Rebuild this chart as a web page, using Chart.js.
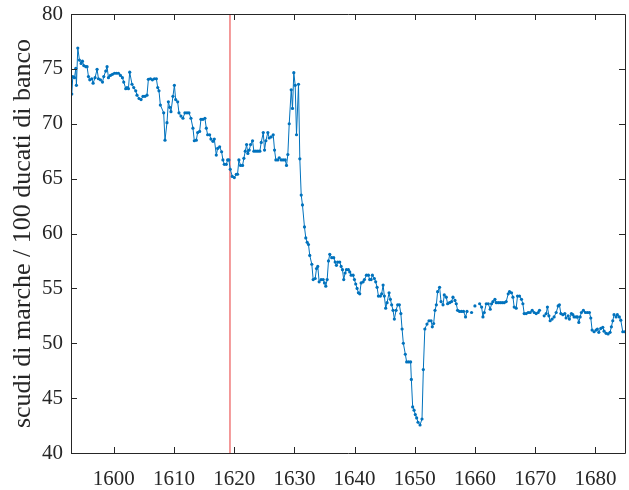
<!DOCTYPE html>
<html>
<head>
<meta charset="utf-8">
<script src="https://cdn.jsdelivr.net/npm/chart.js@4"></script>
<style>
  body { margin: 0; background: #fff; }
  canvas { display: block; }
</style>
</head>
<body>
<canvas id="myChart" width="629" height="490"></canvas>
<script>

// anni (x) e cambio scudi/ducati (y); null = buco nella serie
const years = [
  1593.03, 1593.2, 1593.48, 1593.7, 1593.8, 1594.03, 1594.3, 1594.58, 1594.8, 1595.02,
  1595.36, 1595.57, 1595.8, 1596.02, 1596.35, 1596.57, 1596.9, 1597.23, 1597.46, 1597.79,
  1598.13, 1598.34, 1598.67, 1598.89, 1599.12, 1599.45, 1599.78, 1600.12, 1600.45, 1600.78,
  1601.11, 1601.44, 1601.66, 1601.99, 1602.2, 1602.44, 1602.65, 1603.03, 1603.32, 1603.65,
  1603.86, 1604.2, 1604.53, 1604.86, 1605.19, 1605.52, 1605.75, 1606.09, 1606.42, 1606.75,
  1607.08, 1607.3, 1607.51, 1607.74, 1608.29, 1608.51, 1608.84, 1609.07, 1609.29, 1609.5,
  1609.83, 1610.07, 1610.28, 1610.61, 1610.83, 1611.16, 1611.49, 1611.82, 1612.16, 1612.49,
  1612.82, 1613.15, 1613.38, 1613.71, 1613.93, 1614.26, 1614.48, 1614.81, 1615.14, 1615.37,
  1615.59, 1615.92, 1616.14, 1616.47, 1616.7, 1617.03, 1617.25, 1617.58, 1617.91, 1618.13,
  1618.36, 1618.69, 1618.91, 1619.12, 1619.35, 1619.68, 1620.02, 1620.35, 1620.56, 1620.78,
  1621.06, 1621.39, 1621.61, 1621.84, 1622.06, 1622.27, 1622.5, 1622.72, 1623.05, 1623.27,
  1623.6, 1623.93, 1624.26, 1624.49, 1624.83, 1625.04, 1625.26, 1625.59, 1625.82, 1626.15,
  1626.48, 1626.7, 1626.92, 1627.25, 1627.48, 1627.81, 1628.14, 1628.47, 1628.69, 1628.91,
  1629.14, 1629.47, 1629.68, 1629.9, 1630.13, 1630.35, 1630.68, 1630.9, 1631.13, 1631.34,
  1631.67, 1631.89, 1632.12, 1632.34, 1632.55, 1632.89, 1633.12, 1633.45, 1633.67, 1633.88,
  1634.11, 1634.44, 1634.78, 1634.99, 1635.21, 1635.44, 1635.66, 1635.87, 1636.2, 1636.53,
  1636.77, 1636.98, 1637.2, 1637.53, 1637.76, 1637.98, 1638.19, 1638.42, 1638.64, 1638.97,
  1639.19, 1639.42, 1639.75, 1639.97, 1640.18, 1640.41, 1640.63, 1640.85, 1641.08, 1641.41,
  1641.63, 1641.96, 1642.29, 1642.5, 1642.74, 1642.95, 1643.28, 1643.5, 1643.73, 1643.95,
  1644.28, 1644.49, 1644.73, 1644.94, 1645.16, 1645.39, 1645.72, 1645.94, 1646.15, 1646.38,
  1646.6, 1646.88, 1647.15, 1647.43, 1647.68, 1647.88, 1648.09, 1648.42, 1648.64, 1648.97,
  1649.3, 1649.42, 1649.64, 1649.87, 1650.08, 1650.3, 1650.53, 1650.86, 1651.19, 1651.41,
  1651.66, 1652.02, 1652.35, 1652.69, 1652.9, 1653.12, 1653.35, 1653.57, 1653.78, 1654.11,
  1654.35, 1654.68, 1654.89, 1655.22, 1655.44, 1655.77, 1656.1, 1656.33, 1656.67, 1656.88,
  1657.1, 1657.43, 1657.76, 1658.09, 1658.42, 1658.66, 1659.0, 1659.42, 1659.7, 1659.98,
  1660.4, 1660.76, 1661.09, 1661.31, 1661.53, 1661.86, 1662.19, 1662.52, 1662.74, 1662.97,
  1663.3, 1663.52, 1663.85, 1664.18, 1664.51, 1664.84, 1665.17, 1665.51, 1665.72, 1666.05,
  1666.29, 1666.5, 1666.83, 1667.05, 1667.38, 1667.71, 1667.94, 1668.16, 1668.49, 1668.82,
  1669.15, 1669.49, 1669.82, 1670.15, 1670.48, 1670.7, 1671.1, 1671.48, 1671.81, 1672.02,
  1672.26, 1672.47, 1672.8, 1673.13, 1673.47, 1673.8, 1674.01, 1674.25, 1674.58, 1674.91,
  1675.12, 1675.46, 1675.67, 1676.0, 1676.24, 1676.45, 1676.78, 1677.0, 1677.23, 1677.45,
  1677.66, 1677.99, 1678.33, 1678.66, 1678.99, 1679.22, 1679.44, 1679.77, 1680.1, 1680.31,
  1680.55, 1680.88, 1681.21, 1681.43, 1681.76, 1682.09, 1682.42, 1682.64, 1682.87, 1683.08,
  1683.42, 1683.63, 1683.96, 1684.2, 1684.53, 1684.86
];

const scudi = [
  72.7, 74.3, 74.2, 75.05, 73.5, 76.9, 75.8, 75.5, 75.7, 75.3,
  75.2, 75.2, 74.3, 74.0, 74.1, 73.7, 74.2, 74.96, 74.1, 74.0,
  73.8, 74.3, 74.8, 75.2, 74.2, 74.4, 74.5, 74.6, 74.6, 74.6,
  74.4, 74.2, 73.8, 73.2, 73.3, 73.2, 74.7, 73.6, 73.3, 73.0,
  72.6, 72.3, 72.2, 72.5, 72.5, 72.6, 74.05, 74.1, 74.0, 74.1,
  74.1, 73.3, 73.0, 71.7, 71.0, 68.5, 70.1, 72.0, 71.5, 71.1,
  72.5, 73.5, 72.2, 72.0, 71.0, 70.7, 70.5, 71.0, 71.0, 71.0,
  70.5, 69.6, 68.45, 68.5, 69.2, 69.3, 70.4, 70.4, 70.5, 69.6,
  69.0, 69.0, 68.6, 68.4, 68.6, 67.15, 67.75, 67.9, 67.45, 66.7,
  66.3, 66.3, 66.7, 66.7, 65.85, 65.2, 65.1, 65.4, 65.4, 66.7,
  66.2, 66.2, 66.85, 67.5, 68.1, 67.3, 67.6, 68.1, 68.45, 67.5,
  67.5, 67.5, 67.5, 68.3, 69.2, 67.6, 68.45, 69.2, 68.7, 68.8,
  69.0, 67.6, 66.7, 66.7, 66.9, 66.7, 66.7, 66.7, 66.2, 67.2,
  70.0, 73.1, 71.4, 74.65, 73.5, 69.0, 73.6, 66.8, 63.5, 62.6,
  60.6, 59.6, 59.2, 59.0, 58.0, 57.2, 55.8, 55.9, 56.8, 57.0,
  55.6, 55.8, 55.8, 55.5, 55.2, 55.8, 57.5, 58.1, 57.8, 57.8,
  57.4, 57.1, 57.4, 57.4, 57.0, 56.7, 55.8, 56.4, 56.7, 56.7,
  56.5, 56.2, 56.2, 55.8, 55.4, 55.0, 54.6, 54.5, 55.5, 55.6,
  55.8, 56.2, 56.2, 55.8, 55.8, 56.2, 55.9, 55.6, 55.1, 54.3,
  54.3, 54.5, 55.3, 54.3, 53.2, 53.7, 54.6, 54.0, 53.5, 53.0,
  52.2, 53.0, 53.5, 53.5, 52.7, 51.3, 50.0, 49.0, 48.3, 48.3,
  48.3, 46.7, 44.2, 43.9, 43.5, 43.2, 42.8, 42.55, 43.1, 47.6,
  51.3, 51.75, 52.05, 52.05, 51.5, 51.8, 53.0, 53.5, 54.7, 55.1,
  53.8, 53.5, 54.4, 54.2, 53.6, 53.7, 53.8, 54.2, 53.9, 53.6,
  53.0, 52.9, 52.9, 52.9, 52.4, 52.9, null, 52.8, null, 53.4,
  null, 53.6, 53.3, 52.4, 52.8, 53.6, 53.6, 53.1, 53.6, 53.8,
  54.0, 53.7, 53.7, 53.7, 53.7, 53.7, 53.8, 54.5, 54.7, 54.6,
  54.2, 53.3, 53.2, 54.3, 54.3, 54.0, 53.6, 52.7, 52.7, 52.8,
  52.8, 53.0, 52.8, 52.7, 52.8, 53.0, null, 52.5, 52.7, 53.3,
  52.5, 52.05, 52.2, 52.4, 52.8, 53.4, 53.5, 52.7, 52.6, 52.7,
  52.3, 52.5, 52.2, 52.7, 52.6, 52.4, 52.4, 52.4, 51.9, 52.4,
  52.8, 53.0, 52.8, 52.8, 52.8, 52.3, 51.2, 51.05, 51.2, 51.3,
  51.0, 51.35, 51.45, 51.1, 50.9, 50.85, 51.0, 51.5, 52.05, 52.6,
  52.4, 52.6, 52.4, 52.1, 51.05, 51.05
];

const markerYear = 1619.3;
const xTicks = [1600, 1610, 1620, 1630, 1640, 1650, 1660, 1670, 1680];
const yTicks = [40, 45, 50, 55, 60, 65, 70, 75, 80];
const yLabel = 'scudi di marche / 100 ducati di banco';

const axisColor = '#262626';
const tickFont = { family: 'Liberation Serif', size: 21 };

// riquadro con tacche verso l'interno (stile matlab)
const boxPlugin = {
  id: 'box',
  afterDraw(chart) {
    const c = chart.ctx, a = chart.chartArea;
    const sx = chart.scales.x, sy = chart.scales.y;
    const len = 6;
    c.save();
    c.strokeStyle = axisColor;
    c.lineWidth = 1;
    c.beginPath();
    c.rect(Math.round(a.left) + 0.5, Math.round(a.top) + 0.5,
           Math.round(a.right - a.left), Math.round(a.bottom - a.top));
    xTicks.forEach(v => {
      const px = Math.round(sx.getPixelForValue(v)) + 0.5;
      c.moveTo(px, a.bottom); c.lineTo(px, a.bottom - len);
      c.moveTo(px, a.top); c.lineTo(px, a.top + len);
    });
    yTicks.forEach(v => {
      const py = Math.round(sy.getPixelForValue(v)) + 0.5;
      c.moveTo(a.left, py); c.lineTo(a.left + len, py);
      c.moveTo(a.right, py); c.lineTo(a.right - len, py);
    });
    c.stroke();
    c.restore();
  }
};

const seriesData = years.map((yr, i) => ({ x: yr, y: scudi[i] }));

new Chart(document.getElementById('myChart'), {
  type: 'line',
  data: {
    datasets: [
      {
        data: seriesData,
        borderColor: '#0072BD',
        backgroundColor: '#0072BD',
        borderWidth: 1,
        pointRadius: 1.6,
        pointBorderWidth: 0,
        pointBackgroundColor: '#0072BD',
        spanGaps: false,
        tension: 0
      },
      {
        data: [{ x: markerYear, y: 40 }, { x: markerYear, y: 80 }],
        borderColor: '#f07a7a',
        borderWidth: 1.5,
        pointRadius: 0
      }
    ]
  },
  options: {
    responsive: false,
    animation: false,
    layout: { padding: { top: 14, right: 3, left: 0, bottom: 0 } },
    plugins: {
      legend: { display: false },
      tooltip: { enabled: false }
    },
    scales: {
      x: {
        type: 'linear',
        min: 1592.9,
        max: 1684.9,
        afterBuildTicks: s => { s.ticks = xTicks.map(v => ({ value: v })); },
        afterFit: s => { s.height = 37; s.paddingLeft = 0; s.paddingRight = 0; },
        grid: { display: false, drawTicks: false },
        border: { display: false },
        ticks: {
          font: tickFont, color: axisColor, padding: 14, maxRotation: 0,
          callback: v => String(v)
        }
      },
      y: {
        min: 40,
        max: 80,
        afterBuildTicks: s => { s.ticks = yTicks.map(v => ({ value: v })); },
        afterFit: s => { s.width = 71; s.paddingTop = 0; s.paddingBottom = 0; },
        grid: { display: false, drawTicks: false },
        border: { display: false },
        ticks: { font: tickFont, color: axisColor, padding: 8 },
        title: {
          display: true,
          text: yLabel,
          font: { family: 'Liberation Serif', size: 26 },
          color: axisColor,
          padding: { top: 8, bottom: 0 }
        }
      }
    }
  },
  plugins: [boxPlugin]
});
</script>
</body>
</html>
